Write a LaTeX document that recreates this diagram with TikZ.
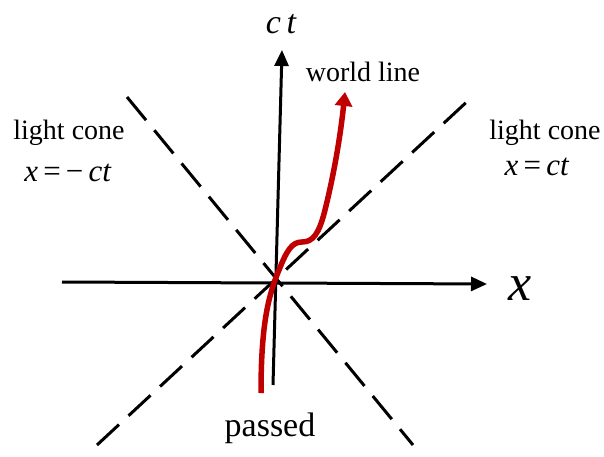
\documentclass[tikz,border=0pt]{standalone}
\usepackage{fontspec}
\setmainfont{Liberation Serif}
\usetikzlibrary{arrows.meta}
\definecolor{wred}{RGB}{192,0,0}
\begin{document}
\begin{tikzpicture}[x=1pt,y=-1pt,
  axis/.style={line width=3pt,-{Triangle[length=16pt,width=14pt]}},
  cone/.style={line width=3pt,dash pattern=on 30pt off 13pt},
  wline/.style={line width=5.5pt,wred,-{Triangle[length=14pt,width=17pt]}},
  lbl/.style={font=\fontsize{28}{30}\selectfont,inner sep=0pt},
  eq/.style={font=\fontsize{31}{33}\selectfont,inner sep=0pt}]
\useasboundingbox (0,0) rectangle (604,457);
% coordinates
\coordinate (xl) at (62,282);
\coordinate (xr) at (487,284);
\coordinate (tb) at (273,385);
\coordinate (tt) at (282,50);
\coordinate (c1a) at (127,97);
\coordinate (c1b) at (413,445);
\coordinate (c2a) at (97,445);
\coordinate (c2b) at (472,97);
% light cone
\draw[cone] (c1a) -- (c1b);
\draw[cone] (c2a) -- (c2b);
% axes
\draw[axis] (xl) -- (xr);
\draw[axis] (tb) -- (tt);
% world line
\coordinate (wb) at (261,393);
\coordinate (wt) at (345,92);
\draw[wline] (wb) .. controls (261,330) and (267,298) .. (279,270)
  .. controls (287,250) and (292,242) .. (302,242)
  .. controls (313,242) and (319,234) .. (325,210)
  .. controls (333,178) and (340,140) .. (wt);
% labels
\node[lbl] (wl) at (363,72) {world line};
\node[lbl] (lcl) at (69,133) {light cone};
\node[eq] (eql) at (68,173) {\textit{x}\,=\,−\,\textit{ct}};
\node[lbl] (lcr) at (545,133) {light cone};
\node[eq] (eqr) at (537,167) {\textit{x}\,=\,\textit{ct}};
\node[font=\fontsize{34}{36}\selectfont,inner sep=0pt] (ps) at (270,428) {passed};
\node[font=\fontsize{34}{36}\selectfont\itshape,inner sep=0pt] (ct) at (281,24) {c\,t};
\node[font=\fontsize{52}{56}\selectfont\itshape,inner sep=0pt] (xlab) at (520,289) {x};
\end{tikzpicture}
\end{document}
